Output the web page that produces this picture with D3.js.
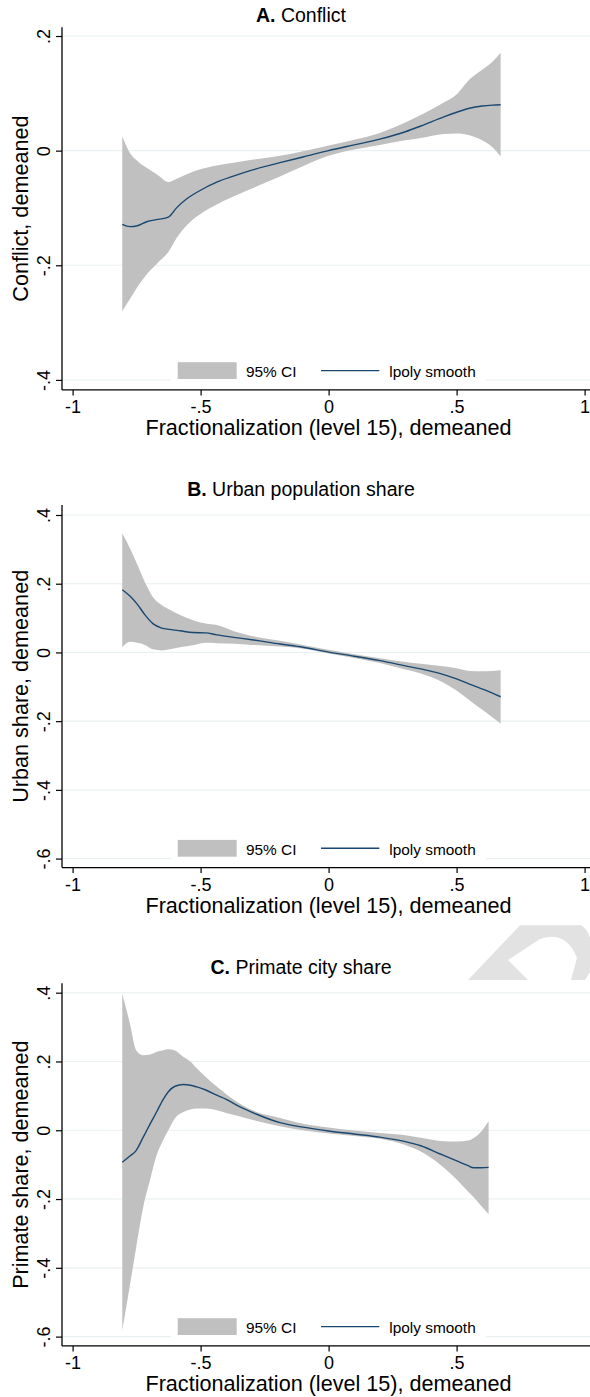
<!DOCTYPE html>
<html><head><meta charset="utf-8">
<script src="https://cdn.jsdelivr.net/npm/d3@7/dist/d3.min.js"></script>
<style>
html,body{margin:0;padding:0;background:#fff;}
svg{display:block;font-family:"Liberation Sans",Arial,Helvetica,sans-serif;}
</style></head>
<body>
<svg id="chart" width="590" height="1397"></svg>
<script>
// ---------- DATA ----------
const panelTitlesBold = ["A.", "B.", "C."];
const panelTitles = ["Conflict", "Urban population share", "Primate city share"];
const yTitles = ["Conflict, demeaned", "Urban share, demeaned", "Primate share, demeaned"];
const xTitle = "Fractionalization (level 15), demeaned";
const legendLabels = ["95% CI", "lpoly smooth"];

const xTicksAB = [-1, -0.5, 0, 0.5, 1];
const xTickLabelsAB = ["-1", "-.5", "0", ".5", "1"];
const xTicksC = [-1, -0.5, 0, 0.5];
const xTickLabelsC = ["-1", "-.5", "0", ".5"];

const yTicksA = [-0.4, -0.2, 0, 0.2];
const yTickLabelsA = ["-.4", "-.2", "0", ".2"];
const yTicksBC = [-0.6, -0.4, -0.2, 0, 0.2, 0.4];
const yTickLabelsBC = ["-.6", "-.4", "-.2", "0", ".2", ".4"];

// Panel A: Conflict
const xA = [-0.806,-0.776,-0.747,-0.711,-0.666,-0.626,-0.593,-0.554,-0.502,-0.437,-0.372,-0.3,-0.19,-0.1,0,0.1,0.2,0.3,0.36,0.45,0.5,0.55,0.6,0.64,0.672];
const fitA = [-0.1286,-0.1326,-0.131,-0.124,-0.120,-0.116,-0.0994,-0.084,-0.0695,-0.055,-0.0445,-0.034,-0.021,-0.011,0.0,0.010,0.020,0.033,0.043,0.059,0.067,0.074,0.078,0.0795,0.080];
const hiA  = [0.025,-0.004,-0.018,-0.030,-0.043,-0.0547,-0.049,-0.041,-0.0326,-0.026,-0.021,-0.016,-0.009,-0.001,0.009,0.019,0.031,0.049,0.062,0.084,0.098,0.124,0.141,0.155,0.171];
const loA  = [-0.280,-0.259,-0.238,-0.216,-0.195,-0.177,-0.152,-0.130,-0.111,-0.094,-0.080,-0.066,-0.045,-0.027,-0.009,0.002,0.010,0.018,0.022,0.029,0.030,0.027,0.018,0.006,-0.010];

// Panel B: Urban population share
const xB = [-0.806,-0.776,-0.747,-0.718,-0.685,-0.652,-0.62,-0.58,-0.53,-0.48,-0.437,-0.37,-0.3,-0.19,-0.1,0,0.1,0.2,0.3,0.36,0.43,0.5,0.55,0.61,0.672];
const fitB = [0.1825,0.164,0.140,0.110,0.083,0.071,0.067,0.063,0.058,0.057,0.051,0.044,0.037,0.0245,0.015,0.001,-0.011,-0.024,-0.039,-0.048,-0.060,-0.077,-0.092,-0.109,-0.129];
const hiB  = [0.347,0.303,0.255,0.205,0.160,0.138,0.124,0.109,0.094,0.084,0.0795,0.062,0.048,0.034,0.022,0.008,-0.005,-0.017,-0.028,-0.033,-0.039,-0.046,-0.054,-0.055,-0.052];
const loB  = [0.015,0.031,0.028,0.022,0.009,0.006,0.009,0.015,0.021,0.028,0.027,0.025,0.022,0.017,0.011,-0.003,-0.016,-0.031,-0.050,-0.061,-0.081,-0.111,-0.139,-0.172,-0.207];

// Panel C: Primate city share
const xC = [-0.806,-0.776,-0.752,-0.724,-0.696,-0.672,-0.646,-0.626,-0.6,-0.567,-0.54,-0.515,-0.48,-0.437,-0.4,-0.346,-0.281,-0.19,-0.1,0,0.1,0.2,0.3,0.36,0.436,0.503,0.545,0.566,0.598,0.625];
const fitC = [-0.093,-0.075,-0.059,-0.020,0.020,0.053,0.090,0.112,0.128,0.133,0.131,0.126,0.117,0.102,0.090,0.068,0.0465,0.022,0.009,-0.002,-0.011,-0.020,-0.033,-0.045,-0.069,-0.090,-0.103,-0.109,-0.109,-0.108];
const hiC  = [0.397,0.310,0.233,0.218,0.220,0.228,0.233,0.2355,0.232,0.213,0.200,0.180,0.155,0.127,0.105,0.077,0.053,0.036,0.019,0.008,-0.001,-0.008,-0.0145,-0.022,-0.031,-0.033,-0.030,-0.023,-0.002,0.026];
const loC  = [-0.581,-0.450,-0.342,-0.223,-0.140,-0.073,-0.028,0.0,0.035,0.053,0.060,0.063,0.063,0.058,0.050,0.040,0.027,0.012,0.0,-0.0097,-0.017,-0.025,-0.043,-0.062,-0.100,-0.145,-0.178,-0.194,-0.222,-0.244];

// ---------- LAYOUT ----------
const svg = d3.select("#chart");
const W = 590;
const axisX = 62;           // y-axis line position
const plotH = 362.6;
const panels = [
  {top: 27.3, yDom: [-0.4174, 0.2152], xs: xA, fit: fitA, hi: hiA, lo: loA, yT: yTicksA, yL: yTickLabelsA, xT: xTicksAB, xL: xTickLabelsAB, titleY: 21.5},
  {top: 505.0, yDom: [-0.6262, 0.4291], xs: xB, fit: fitB, hi: hiB, lo: loB, yT: yTicksBC, yL: yTickLabelsBC, xT: xTicksAB, xL: xTickLabelsAB, titleY: 496},
  {top: 983.3, yDom: [-0.6270, 0.4273], xs: xC, fit: fitC, hi: hiC, lo: loC, yT: yTicksBC, yL: yTickLabelsBC, xT: xTicksC, xL: xTickLabelsC, titleY: 974}
];

const x = d3.scaleLinear().domain([-1, 1]).range([72.6, 584.6]);
const gridColor = "#e8f0f1";
const ciColor = "#c0c0c0";
const lineColor = "#1a476f";

// Watermark fragment at top-right of panel C
const wm = svg.append("g");
wm.append("path")
  .attr("d", "M468,980 L520,925.3 L581,925.3 Q588,930 590,938 L590,972 L585,980 Z")
  .attr("fill", "#e2e2e2");
wm.append("path")
  .attr("d", "M508,960 L540,939 Q566,930 577,958 L571,980 L528,980 Z")
  .attr("fill", "#ffffff");

panels.forEach((p, i) => {
  const bottom = p.top + plotH;
  const y = d3.scaleLinear().domain(p.yDom).range([bottom, p.top]);
  const g = svg.append("g");

  // gridlines
  g.selectAll("line.grid").data(p.yT).join("line")
    .attr("x1", axisX).attr("x2", W)
    .attr("y1", d => y(d)).attr("y2", d => y(d))
    .attr("stroke", gridColor).attr("stroke-width", 1.1);

  // CI band
  const band = p.xs.map((xv, k) => ({x: xv, hi: p.hi[k], lo: p.lo[k]}));
  const area = d3.area().curve(d3.curveMonotoneX)
    .x(d => x(d.x)).y0(d => y(d.lo)).y1(d => y(d.hi));
  g.append("path").datum(band).attr("d", area).attr("fill", ciColor);

  // fitted line
  const pts = p.xs.map((xv, k) => ({x: xv, y: p.fit[k]}));
  const line = d3.line().curve(d3.curveMonotoneX).x(d => x(d.x)).y(d => y(d.y));
  g.append("path").datum(pts).attr("d", line)
    .attr("fill", "none").attr("stroke", lineColor).attr("stroke-width", 1.4);

  // legend
  const lg = g.append("g");
  lg.append("rect").attr("x", 171).attr("y", bottom - 36).attr("width", 315).attr("height", 33)
    .attr("fill", "#fff");
  lg.append("rect").attr("x", 177.7).attr("y", bottom - 27.7).attr("width", 59).attr("height", 16.8)
    .attr("fill", ciColor);
  lg.append("text").attr("x", 246).attr("y", bottom - 12.8).attr("font-size", 15.4)
    .attr("fill", "#000").text(legendLabels[0]);
  lg.append("line").attr("x1", 321).attr("x2", 379.3).attr("y1", bottom - 19.3).attr("y2", bottom - 19.3)
    .attr("stroke", lineColor).attr("stroke-width", 1.4);
  lg.append("text").attr("x", 389.3).attr("y", bottom - 12.8).attr("font-size", 15.4)
    .attr("fill", "#000").text(legendLabels[1]);

  // y axis
  const yAxis = d3.axisLeft(y).tickValues(p.yT).tickFormat((d, k) => p.yL[k])
    .tickSize(6).tickSizeOuter(0);
  const ya = g.append("g").attr("transform", `translate(${axisX},0)`).call(yAxis);
  ya.select(".domain").remove();
  ya.selectAll(".tick line").attr("stroke", "#000").attr("stroke-width", 1.2);
  ya.selectAll(".tick text")
    .attr("x", null).attr("dy", null)
    .attr("text-anchor", "middle")
    .attr("transform", "translate(-12.5,0) rotate(-90)")
    .attr("font-size", 18).attr("font-family", "Liberation Sans, Arial, sans-serif").attr("fill", "#000");
  g.append("line").attr("x1", axisX).attr("x2", axisX).attr("y1", p.top).attr("y2", bottom)
    .attr("stroke", "#000").attr("stroke-width", 1.3);

  // x axis
  const xAxis = d3.axisBottom(x).tickValues(p.xT).tickFormat((d, k) => p.xL[k])
    .tickSize(5.5).tickSizeOuter(0);
  const xa = g.append("g").attr("transform", `translate(0,${bottom})`).call(xAxis);
  xa.select(".domain").remove();
  xa.selectAll(".tick line").attr("stroke", "#000").attr("stroke-width", 1.2);
  xa.selectAll(".tick text")
    .attr("y", 23.3).attr("dy", null)
    .attr("font-size", 18).attr("font-family", "Liberation Sans, Arial, sans-serif").attr("fill", "#000");
  g.append("line").attr("x1", axisX).attr("x2", W).attr("y1", bottom).attr("y2", bottom)
    .attr("stroke", "#000").attr("stroke-width", 1.3);

  // axis titles
  g.append("text").attr("x", 328.5).attr("y", bottom + 45)
    .attr("text-anchor", "middle").attr("font-size", 21.6).attr("fill", "#000").text(xTitle);
  g.append("text")
    .attr("transform", `translate(28,${p.top + plotH / 2}) rotate(-90)`)
    .attr("text-anchor", "middle").attr("font-size", 21.6).attr("fill", "#000").text(yTitles[i]);

  // panel title
  const t = g.append("text").attr("x", 301).attr("y", p.titleY)
    .attr("text-anchor", "middle").attr("font-size", 19.5).attr("fill", "#000");
  t.append("tspan").attr("font-weight", "bold").text(panelTitlesBold[i]);
  t.append("tspan").text(" " + panelTitles[i]);
});
</script>
</body></html>
